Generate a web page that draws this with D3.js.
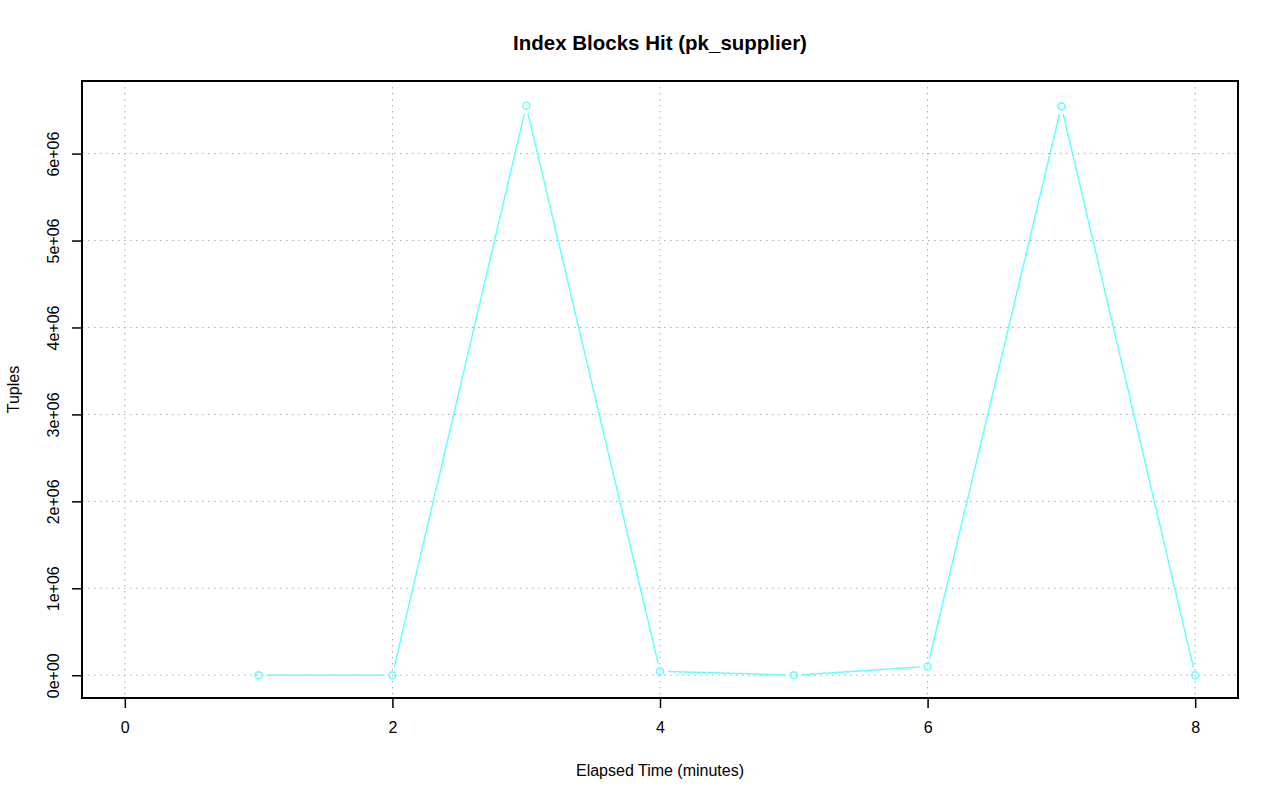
<!DOCTYPE html>
<html>
<head>
<meta charset="UTF-8">
<title>Index Blocks Hit (pk_supplier)</title>
<style>
body { margin: 0; background: #fff; }
svg text { font-family: "Liberation Sans", Arial, sans-serif; fill: #000; }
.grid line { stroke: #a8a8a8; stroke-dasharray: 1.5,4.5; }
</style>
<script src="https://cdn.jsdelivr.net/npm/d3@7"></script>
</head>
<body>
<svg id="chart" width="1280" height="801"></svg>
<script>
// data
var minutes = [1, 2, 3, 4, 5, 6, 7, 8];
var tuples = [0, 0, 6550000, 45000, 0, 100000, 6545000, 0];
var xTicks = [0, 2, 4, 6, 8];
var yTicks = [0, 1e6, 2e6, 3e6, 4e6, 5e6, 6e6];
var yTickLabels = ["0e+00", "1e+06", "2e+06", "3e+06", "4e+06", "5e+06", "6e+06"];

var svg = d3.select("#chart");
var plot = {left: 82, right: 1238, top: 81, bottom: 698};
var lineColor = "#66ffff";
var fs = "16px";

// R style 4% axis extension
var xMin = 0, xMax = 8;
var xPad = (xMax - xMin) * 0.04;
var x = d3.scaleLinear().domain([xMin - xPad, xMax + xPad]).range([plot.left, plot.right]);

var yMax = d3.max(tuples), yMin = 0;
var yPad = (yMax - yMin) * 0.04;
var y = d3.scaleLinear().domain([yMin - yPad, yMax + yPad]).range([plot.bottom, plot.top + 2]);

// grid
var grid = svg.append("g").attr("class", "grid");
grid.selectAll(".gx").data(xTicks).enter().append("line")
    .attr("x1", function(d) { return x(d); }).attr("x2", function(d) { return x(d); })
    .attr("y1", plot.top).attr("y2", plot.bottom);
grid.selectAll(".gy").data(yTicks).enter().append("line")
    .attr("y1", function(d) { return y(d); }).attr("y2", function(d) { return y(d); })
    .attr("x1", plot.left).attr("x2", plot.right);

// axes
var xAxis = d3.axisBottom(x).tickValues(xTicks).tickSize(10).tickPadding(14).tickSizeOuter(0);
var gx = svg.append("g").attr("transform", "translate(0," + plot.bottom + ")").call(xAxis);
gx.select(".domain").remove();
gx.selectAll("text").style("font-size", fs);

var yAxis = d3.axisLeft(y).tickValues(yTicks).tickSize(10).tickSizeOuter(0)
    .tickFormat(function(d, i) { return yTickLabels[i]; });
var gy = svg.append("g").attr("transform", "translate(" + plot.left + ",0)").call(yAxis);
gy.select(".domain").remove();
gy.selectAll("text")
    .style("font-size", fs)
    .attr("text-anchor", "middle")
    .attr("x", 0).attr("dy", 0)
    .attr("transform", "translate(-23,0) rotate(-90)");
svg.selectAll(".tick line").attr("stroke", "#000").attr("stroke-width", 1.5);

// box
svg.append("rect")
    .attr("x", plot.left).attr("y", plot.top)
    .attr("width", plot.right - plot.left).attr("height", plot.bottom - plot.top)
    .attr("fill", "none").attr("stroke", "#000").attr("stroke-width", 2);

// series (type "b": lines with gaps at points)
var pts = minutes.map(function(m, i) { return [x(m), y(tuples[i])]; });
var gap = 8;
var segs = [];
for (var i = 0; i < pts.length - 1; i++) {
  var a = pts[i], b = pts[i + 1];
  var dx = b[0] - a[0], dy = b[1] - a[1];
  var len = Math.sqrt(dx * dx + dy * dy);
  if (len > gap * 2) {
    segs.push([a[0] + dx / len * gap, a[1] + dy / len * gap, b[0] - dx / len * gap, b[1] - dy / len * gap]);
  }
}
svg.append("g").selectAll("line").data(segs).enter().append("line")
    .attr("x1", function(d) { return d[0]; }).attr("y1", function(d) { return d[1]; })
    .attr("x2", function(d) { return d[2]; }).attr("y2", function(d) { return d[3]; })
    .attr("stroke", lineColor).attr("stroke-width", 1.5);
svg.append("g").selectAll("circle").data(pts).enter().append("circle")
    .attr("cx", function(d) { return d[0]; }).attr("cy", function(d) { return d[1]; })
    .attr("r", 3.5).attr("fill", "none").attr("stroke", lineColor).attr("stroke-width", 1.5);

// titles
svg.append("text").attr("x", (plot.left + plot.right) / 2).attr("y", 50)
    .attr("text-anchor", "middle").style("font-size", "20.5px").style("font-weight", "bold")
    .text("Index Blocks Hit (pk_supplier)");
svg.append("text").attr("x", (plot.left + plot.right) / 2).attr("y", 776)
    .attr("text-anchor", "middle").style("font-size", fs)
    .text("Elapsed Time (minutes)");
svg.append("text").attr("transform", "translate(19," + ((plot.top + plot.bottom) / 2) + ") rotate(-90)")
    .attr("text-anchor", "middle").style("font-size", fs)
    .text("Tuples");
</script>
</body>
</html>
